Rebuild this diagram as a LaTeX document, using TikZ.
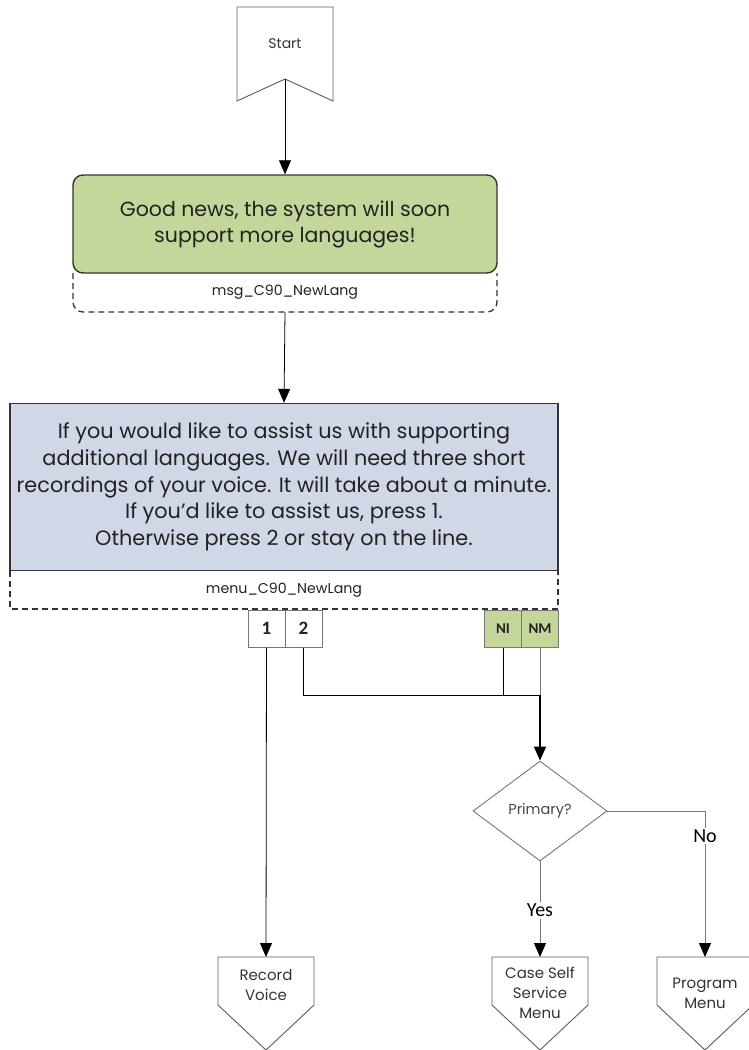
\documentclass[tikz,border=0pt]{standalone}
\usepackage{fontspec}
\setmainfont{Poppins}
\newfontfamily\calfont{Carlito}
\usetikzlibrary{shapes.geometric,arrows.meta,calc}
\definecolor{boxgreen}{HTML}{C4D79B}
\definecolor{boxblue}{HTML}{D0D8E8}
\definecolor{edge}{HTML}{333333}
\definecolor{lgray}{HTML}{777777}
\definecolor{txt}{HTML}{222222}
\begin{document}
\begin{tikzpicture}[x=1pt,y=-1pt,
  shapeline/.style={draw=edge!80,line width=0.9pt},
  conn/.style={draw=black,line width=0.8pt},
  gconn/.style={draw=lgray,line width=1pt},
  tip/.style={-{Triangle[length=14pt,width=12pt,color=black]}},
  msgbox/.style={draw=edge,line width=1.4pt,fill=boxgreen,rounded corners=10pt,minimum width=424pt,minimum height=98pt,align=center,font=\fontsize{20.5}{26}\selectfont,text=txt,inner sep=0pt},
  menubox/.style={draw=edge,line width=1.4pt,fill=boxblue,minimum width=548pt,minimum height=167pt,align=center,font=\fontsize{20.8}{26.7}\selectfont,text=txt,inner sep=0pt},
  dashbox/.style={draw=edge,line width=1.3pt,dash pattern=on 6pt off 4pt},
  idlabel/.style={font=\fontsize{14.2}{16}\selectfont,text=txt,inner sep=0pt},
  keybox/.style={draw=lgray,line width=1pt,minimum width=37pt,minimum height=37pt,inner sep=0pt,font=\calfont\bfseries\fontsize{19}{20}\selectfont,text=txt},
  termtext/.style={font=\fontsize{15}{20}\selectfont,text=edge,align=center,inner sep=0pt},
  yn/.style={font=\calfont\fontsize{20}{22}\selectfont,fill=white,inner sep=2pt,text=black}
]
\useasboundingbox (0,0) rectangle (748,1050);

% Start
\draw[shapeline] (237,7) -- (333,7) -- (333,101) -- (285,79) -- (237,101) -- cycle;
\node[termtext,font=\fontsize{14}{16}\selectfont] (start) at (285,44) {Start};
\coordinate (startapex) at (285,79);

% message box
\node[msgbox] (msg) at (285,224) {Good news, the system will soon\\support more languages!};
\draw[dashbox,rounded corners=10pt] (73,273) -- (73,312) -- (497,312) -- (497,273);
\node[idlabel] (msgid) at (285,292) {msg\_C90\_NewLang};
\coordinate (msgbot) at (285,312);

% menu box
\node[menubox] (menu) at (284,487) {If you would like to assist us with supporting\\additional languages. We will need three short\\recordings of your voice. It will take about a minute.\\If you’d like to assist us, press 1.\\Otherwise press 2 or stay on the line.};
\draw[dashbox] (10,571) -- (10,609) -- (558,609) -- (558,571);
\node[idlabel] (menuid) at (284,590) {menu\_C90\_NewLang};

% keys
\node[keybox] (k1) at (266.5,628.5) {1};
\node[keybox] (k2) at (303.5,628.5) {2};
\node[keybox,fill=boxgreen,font=\calfont\bfseries\fontsize{15}{17}\selectfont] (kni) at (503,628.5) {NI};
\node[keybox,fill=boxgreen,font=\calfont\bfseries\fontsize{15}{17}\selectfont] (knm) at (540,628.5) {NM};

% decision
\node[draw=lgray,line width=0.9pt,diamond,minimum width=134pt,minimum height=100pt,inner sep=0pt,font=\fontsize{14.5}{16}\selectfont,text=edge!90] (prim) at (540,811) {Primary?};

% terminal shapes
\node[termtext] (rec) at (266,985) {Record\\Voice};
\draw[shapeline] (218,957) -- (314,957) -- (314,1005) -- (266,1050) -- (218,1005) -- cycle;
\coordinate (rectop) at (266,957);

\node[termtext] (css) at (540,993) {Case Self\\Service\\Menu};
\draw[shapeline] (492,957) -- (588,957) -- (588,1005) -- (540,1050) -- (492,1005) -- cycle;
\coordinate (csstop) at (540,957);

\node[termtext] (prog) at (705,993) {Program\\Menu};
\draw[shapeline] (657,957) -- (753,957) -- (753,1005) -- (705,1050) -- (657,1005) -- cycle;
\coordinate (progtop) at (705,957);

% connectors
\draw[conn,tip] (startapex) -- (msg.north);
\draw[conn,tip] (msgbot) -- (menu.north);
\coordinate (junc) at (540,695);
\draw[conn,tip] (k1.south) -- (rectop);
\draw[conn] (k2.south) |- (junc);
\draw[conn] (kni.south) -- (kni.south |- junc);
\draw[gconn] (knm.south) -- (junc);
\draw[conn,line width=1.6pt,tip] (junc) -- (prim.north);
\draw[gconn,tip] (prim.east) -| (progtop);
\node[yn] (nolbl) at (705,836) {No};
\draw[gconn,tip] (prim.south) -- (csstop);
\node[yn] (yeslbl) at (540,910) {Yes};
\end{tikzpicture}
\end{document}
